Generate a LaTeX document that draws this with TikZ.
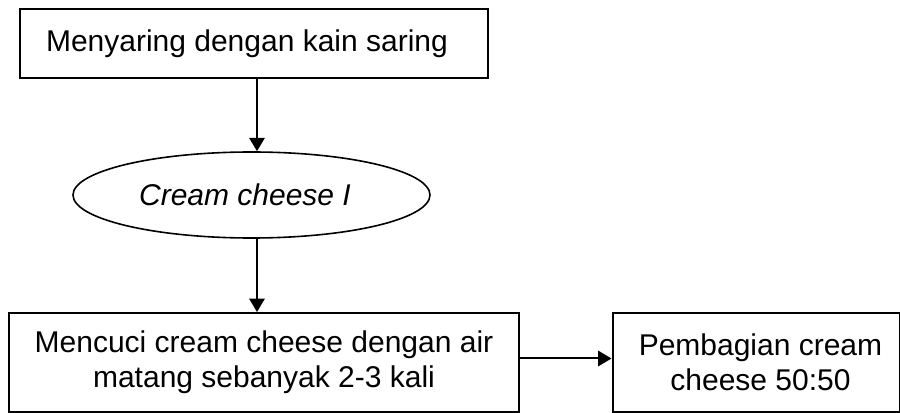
\documentclass[tikz,border=0pt]{standalone}
\usepackage{fontspec}
\setmainfont{Liberation Sans}
\usetikzlibrary{shapes.geometric,arrows.meta}
\begin{document}
\begin{tikzpicture}[x=0.75pt,y=-0.75pt,
  every node/.style={font=\fontsize{22.5}{26.3}\selectfont, align=center, inner sep=0pt},
  stepbox/.style={draw, line width=1.5pt, rectangle},
  prodshape/.style={draw, line width=1.2pt, ellipse},
  flow/.style={line width=1.5pt, -{Triangle[length=10pt,width=11.5pt]}}]
  \useasboundingbox (0,0) rectangle (900,413);
  % process steps
  \node[stepbox, minimum width=468*0.75pt, minimum height=69*0.75pt] (saring) at (254,43.5)
    {Menyaring dengan kain saring\hspace*{10.5pt}};
  \node[prodshape, minimum width=357*0.75pt, minimum height=86*0.75pt] (cc) at (251.5,195)
    {\itshape Cream cheese I\hspace*{9.75pt}};
  \node[stepbox, minimum width=510*0.75pt, minimum height=99*0.75pt] (cuci) at (264,362.5)
    {Mencuci cream cheese dengan air\\matang sebanyak 2-3 kali};
  \node[stepbox, minimum width=287*0.75pt, minimum height=99*0.75pt] (bagi) at (756,362.5)
    {\hspace*{6.75pt}Pembagian cream\\\hspace*{6.75pt}cheese 50:50};
  % vertical axis of the down arrows
  \coordinate (ax) at (257,0);
  \draw[flow] (saring.south -| ax) -- (cc.north -| ax);
  \draw[flow] (cc.south -| ax) -- (cuci.north -| ax);
  \draw[flow] ([yshift=3pt]cuci.east) -- ([yshift=3pt]bagi.west);
\end{tikzpicture}
\end{document}
